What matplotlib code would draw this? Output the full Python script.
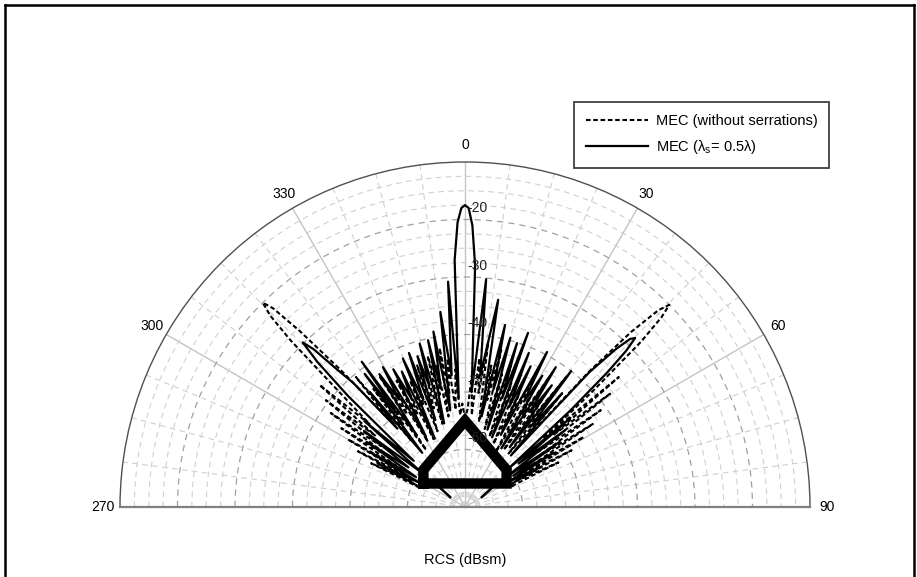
import numpy as np
import matplotlib
matplotlib.use("Agg")
import matplotlib.pyplot as plt
from matplotlib.lines import Line2D

plt.rcParams['font.family'] = ['Liberation Sans', 'DejaVu Sans']
plt.rcParams['mathtext.default'] = 'regular'
plt.rcParams['font.size'] = 10

# RCS pattern, MEC with serrations (lambda_s = 0.5 lambda) - angle (deg), dBsm
solid_deg = [-66, -63.5, -62, -60, -58.5, -56.5, -55, -53, -51.5, -49.5, -48,
             -46.5, -45.5, -44.6, -43.8, -43, -42, -40.8, -39.6, -38.3, -37,
             -36, -35.4, -34, -32.8, -31.5, -30.4, -29, -27.5, -26.3, -25,
             -23.8, -22.7, -21.3, -20, -18.8, -17.5, -16.4, -15.5, -14, -12.5,
             -11.5, -10.2, -8.7, -7.2, -5.8, -4.3, -3.3, -2.4, -1.5, -0.7, 0,
             0.7, 1.5, 2.4, 3.3, 5.3, 6.6, 9.1, 10.4, 12.4, 13.6, 15, 16.2,
             17.6, 18.8, 19.9, 21.2, 22.5, 23.8, 25, 26.4, 27.9, 29.2, 30.5,
             31.8, 33, 34.3, 35.5, 36.8, 38, 39.3, 40.5, 41.7, 42.7, 43.7,
             44.5, 45.2, 45.9, 46.6, 47.5, 48.5, 49.8, 51, 52.5, 54, 55.5, 57,
             58.5, 60, 62, 64, 66]
solid_db = [-61, -53, -61, -51, -60, -49.5, -58, -48, -60.5, -47, -58,
            -42, -34, -29.8, -32, -37, -41, -52, -44, -58, -41,
            -50, -39, -55, -42.5, -48, -41.8, -56, -43, -49, -44,
            -57, -42, -50, -41.5, -54, -42.5, -48, -40.5, -55, -40.3,
            -49, -39, -53, -35.8, -47, -30.7, -51, -27, -20.5, -18, -17.5,
            -18, -21, -28, -50, -30.2, -47, -33.5, -54, -37.6, -49, -39.5, -56,
            -40.1, -50, -37.8, -57, -41, -51, -43, -56, -39.5, -49, -43.5,
            -58, -41, -50, -44, -57, -40, -52, -44, -58, -38, -32,
            -29, -28.3, -31, -36, -45, -60, -46, -58, -48, -61, -50, -60,
            -52, -61.5, -55, -62, -61]

# RCS pattern, MEC without serrations
dash_deg = [-67, -65, -64, -62.5, -61.5, -60, -59, -57.5, -56.5, -55, -54,
            -52.5, -51.5, -50, -49, -47.5, -46.3, -45.5, -44.7, -44, -43.2,
            -42.2, -41, -40, -39, -37.8, -36.6, -35.5, -34.3, -33.2, -32,
            -30.8, -29.6, -28.4, -27.2, -26, -24.8, -23.5, -22.3, -21.1, -19.9,
            -18.7, -17.5, -16.3, -15.1, -13.9, -12.7, -11.5, -10.3, -9.1, -7.9,
            -6.7, -5.5, -4, -3, -1.5, 0, 1.5, 3, 4.2, 5.5, 6.8, 8, 9.3, 10.5,
            11.7, 13, 14.2, 15.5, 16.7, 18, 19.2, 20.5, 21.7, 23, 24.2, 25.5,
            26.7, 28, 29.2, 30.5, 31.7, 33, 34.2, 35.5, 36.7, 38, 39.2, 40.5,
            41.7, 42.5, 43.5, 44.5, 45.3, 46, 46.8, 47.8, 48.8, 49.8, 50.8, 52,
            53, 54.5, 55.5, 57, 58, 59.5, 60.5, 62, 63, 64.5, 66]
dash_db = [-61.5, -52, -60, -49, -58, -46.5, -56, -44.5, -55, -41.5, -52,
           -39.5, -50, -37, -48, -40, -28, -22.5, -20, -22, -28,
           -38, -50, -40.5, -55, -44, -52, -46, -58, -43, -51,
           -47, -57, -45, -52, -48, -57, -46, -51, -48, -56,
           -44, -52, -46, -55, -43, -50, -45, -54, -42, -50,
           -44, -53, -46, -54, -52, -54.5, -53, -47, -54, -44, -50, -41, -55, -45,
           -51, -42, -56, -46, -52, -44, -57, -47, -51, -45, -58, -48,
           -52, -44, -59, -47, -51, -43, -58, -46, -52, -41, -58, -44,
           -55, -38, -28, -22, -20, -22.5, -28, -40, -52, -35, -50, -38,
           -54, -41, -55, -43.5, -57, -46, -58, -49, -60, -52, -61.5]

# heavy outline near the origin (pattern floor) and its two short tails
floor_deg = [-60.5, -48.3, 0, 48.3, 60.5, -60.5]
floor_db = [-61.7, -60.3, -55.0, -60.3, -61.7, -61.7]
tail_deg = [-51.8, -56.3, np.nan, 53.7, 59.5]
tail_db = [-63.8, -66.9, np.nan, -63.5, -66.6]

theta_ticks = [-90, -60, -30, 0, 30, 60, 90]
theta_labels = ['270', '300', '330', '0', '30', '60', '90']
r_ticks = [-60, -50, -40, -30, -20]
r_labels = ['-60', '-50', '-40', '-30', '-20']

fig = plt.figure(figsize=(9.17, 5.77), dpi=100)
# square box centred on the half disc (centre 465,507 px, radius 345 px)
ax = fig.add_axes([120 / 917, (577 - 679.5) / 577, 690 / 917, 690 / 577],
                  projection='polar')
ax.set_theta_zero_location('N')
ax.set_theta_direction(-1)
ax.set_thetamin(-90)
ax.set_thetamax(90)
ax.set_rlim(-70, -10)

ax.set_xticks(np.radians(theta_ticks))
ax.set_xticklabels(theta_labels)
ax.set_xticks(np.radians(np.arange(-90, 90.1, 7.5)), minor=True)
ax.set_yticks(r_ticks)
ax.set_yticklabels([])
ax.set_yticks(np.arange(-67.5, -10, 2.5), minor=True)
ax.tick_params(which='both', length=0)
ax.tick_params(axis='x', pad=5, labelsize=10)

ax.xaxis.grid(True, which='major', color='#c4c4c4', lw=1.0, ls='-')
ax.xaxis.grid(True, which='minor', color='#cfcfcf', lw=0.8, ls=(0, (5, 4)))
ax.yaxis.grid(True, which='major', color='#a0a0a0', lw=0.9, ls=(0, (5, 4)))
ax.yaxis.grid(True, which='minor', color='#d0d0d0', lw=0.8, ls=(0, (5, 4)))

ax.spines['polar'].set_color('#505050')
ax.spines['polar'].set_linewidth(1.0)
ax.spines['start'].set_color('#808080')
ax.spines['end'].set_color('#808080')
ax.spines['start'].set_linewidth(1.6)
ax.spines['end'].set_linewidth(1.6)
ax.spines['inner'].set_visible(False)

for r, lab in zip(r_ticks, r_labels):
    ax.annotate(lab, (0, r), xytext=(2, 3), textcoords='offset points',
                ha='left', va='bottom', fontsize=10, color='#222222')

d_line, = ax.plot(np.radians(dash_deg), dash_db, color='black', lw=1.5,
                  ls=(0, (2.2, 1.3)), label='MEC (without serrations)')
s_line, = ax.plot(np.radians(solid_deg), solid_db, color='black', lw=1.6,
                  label='MEC (λ$_s$= 0.5λ)')
ax.plot(np.radians(floor_deg), floor_db, color='black', lw=7.5,
        solid_joinstyle='miter')
ax.plot(np.radians(tail_deg), tail_db, color='black', lw=1.8)

leg = fig.legend(handles=[d_line, s_line], loc='upper left',
                 bbox_to_anchor=(574 / 917, 1 - 102 / 577), borderaxespad=0,
                 fancybox=False, edgecolor='#404040', framealpha=1,
                 handlelength=4.25, handletextpad=0.55, labelspacing=0.7,
                 borderpad=0.8, fontsize=10.5)
leg.get_frame().set_linewidth(1.3)

fig.text(465 / 917, 1 - 560 / 577, 'RCS (dBsm)', ha='center', va='center',
         fontsize=10.5)

# outer frame of the chart area
fig.add_artist(Line2D([5 / 917, 914 / 917], [1 - 5 / 577, 1 - 5 / 577],
                      color='black', lw=1.8, transform=fig.transFigure))
fig.add_artist(Line2D([5 / 917, 5 / 917], [0, 1 - 5 / 577],
                      color='black', lw=1.8, transform=fig.transFigure))
fig.add_artist(Line2D([914 / 917, 914 / 917], [0, 1 - 5 / 577],
                      color='black', lw=1.8, transform=fig.transFigure))

fig.savefig('out.png', dpi=100)
